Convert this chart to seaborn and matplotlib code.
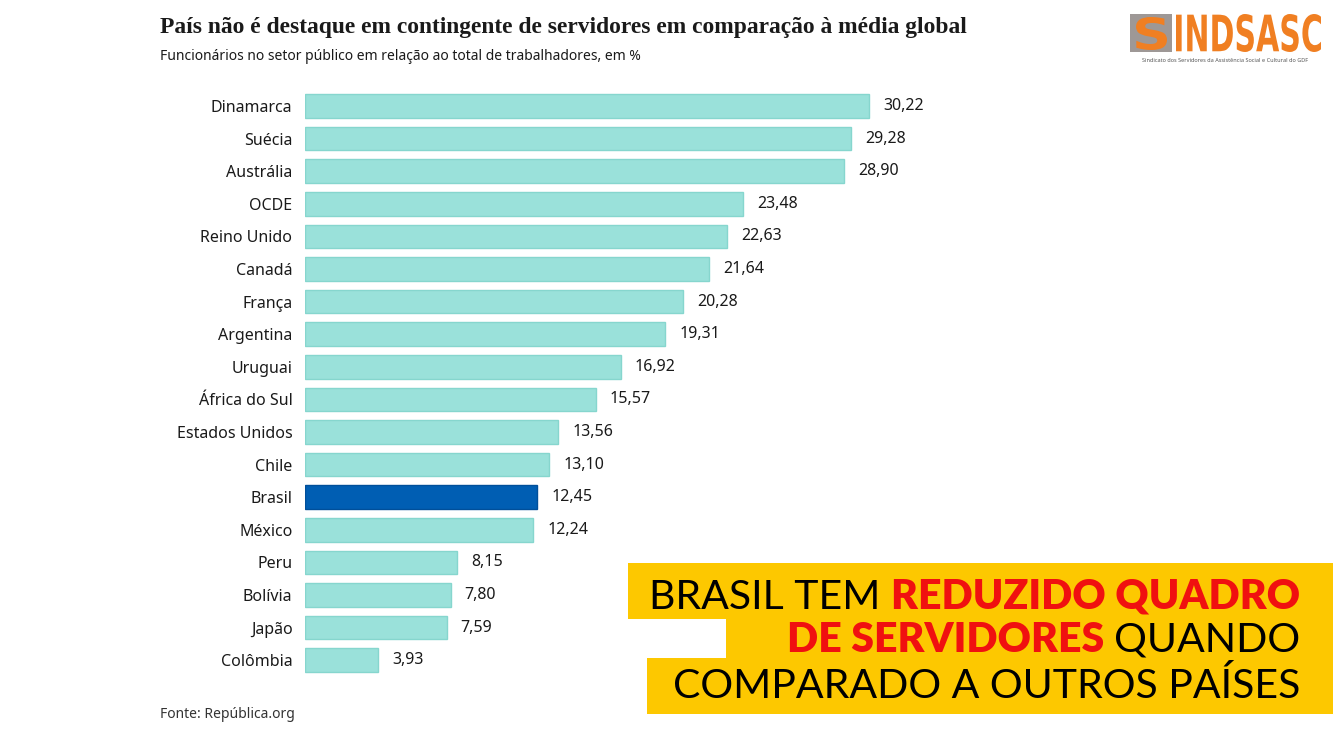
import matplotlib
matplotlib.use("Agg")
import matplotlib.pyplot as plt
import seaborn as sns
import pandas as pd
from matplotlib.patches import Rectangle, PathPatch
from matplotlib.textpath import TextPath
from matplotlib.font_manager import FontProperties
from matplotlib.transforms import Affine2D, IdentityTransform
from matplotlib.text import Annotation

countries = ["Dinamarca", "Suécia", "Austrália", "OCDE", "Reino Unido", "Canadá",
             "França", "Argentina", "Uruguai", "África do Sul", "Estados Unidos",
             "Chile", "Brasil", "México", "Peru", "Bolívia", "Japão", "Colômbia"]
values = [30.22, 29.28, 28.90, 23.48, 22.63, 21.64, 20.28, 19.31, 16.92, 15.57,
          13.56, 13.10, 12.45, 12.24, 8.15, 7.80, 7.59, 3.93]
highlight = "Brasil"

title = "País não é destaque em contingente de servidores em comparação à média global"
subtitle = "Funcionários no setor público em relação ao total de trabalhadores, em %"
source = "Fonte: República.org"

sns.set_theme(style="white")
plt.rcParams["font.family"] = ["Noto Sans", "DejaVu Sans"]

W, H = 1333, 750
fig = plt.figure(figsize=(W / 100, H / 100), dpi=100)
fig.patch.set_facecolor("white")

# axes geometry (pixels)
x0 = 305
px_per_unit = 564 / 30.22
xmax = 40
ax_w = xmax * px_per_unit
step = 32.6
top = 106 - step / 2
ax_h = step * len(countries)
ax = fig.add_axes([x0 / W, 1 - (top + ax_h) / H, ax_w / W, ax_h / H])

df = pd.DataFrame({"country": countries, "value": values})
teal = "#9ae1da"
blue = "#005eb3"
palette = {c: (blue if c == highlight else teal) for c in countries}
sns.barplot(data=df, x="value", y="country", hue="country", palette=palette,
            order=countries, width=0.73, legend=False, ax=ax,
            edgecolor=None, linewidth=0, saturation=1)
for p, c in zip(ax.patches, countries):
    p.set_edgecolor("#86d6ce" if c != highlight else "#004f9a")
    p.set_linewidth(1.0)

ax.set_xlim(0, xmax)
ax.set_ylim(len(countries) - 0.5, -0.5)
for s in ax.spines.values():
    s.set_visible(False)
ax.set_xticks([])
ax.set_xlabel("")
ax.set_ylabel("")
ax.tick_params(axis="y", length=0, pad=9, labelsize=11.5, labelcolor="#1a1a1a")
ax.set_facecolor("none")

for i, v in enumerate(values):
    ax.annotate(f"{v:.2f}".replace(".", ","), xy=(v, i), xytext=(14, 0),
                textcoords="offset pixels",
                va="center", ha="left", fontsize=11.5, color="#1a1a1a")

# title / subtitle / source
fig.text(160 / W, 1 - 27 / H, title, fontsize=16.9, fontweight="bold",
         family=["Liberation Serif", "DejaVu Serif"], color="#1a1a1a", va="center", ha="left")
fig.text(160 / W, 1 - 56 / H, subtitle, fontsize=10, color="#1a1a1a", va="center", ha="left")
fig.text(160 / W, 1 - 715 / H, source, fontsize=10, color="#333333", va="center", ha="left")

# yellow banner
yellow = "#fdc800"
for (bx0, by0, bx1, by1) in [(628, 563, 1333, 619), (726, 618, 1333, 659), (647, 658, 1333, 714)]:
    fig.patches.append(Rectangle((bx0 / W, 1 - by1 / H), (bx1 - bx0) / W, (by1 - by0) / H,
                                 transform=fig.transFigure, facecolor=yellow, edgecolor="none",
                                 zorder=1))

bfont = ["Lato", "DejaVu Sans"]
fs = 29.5
red = "#f01010"
xr = 1300 / W
t1 = fig.text(xr, 1 - 597 / H, "REDUZIDO QUADRO", fontsize=fs, fontweight="heavy",
              color=red, ha="right", va="center", family=bfont, zorder=5)
a1 = Annotation("BRASIL TEM ", xy=(0, 0), xycoords=t1, ha="right", va="bottom",
                fontsize=fs, color="black", family=bfont, annotation_clip=False, zorder=5)
fig.add_artist(a1)
t2 = fig.text(xr, 1 - 640 / H, "QUANDO", fontsize=fs, color="black",
              ha="right", va="center", family=bfont, zorder=5)
a2 = Annotation("DE SERVIDORES ", xy=(0, 0), xycoords=t2, ha="right", va="bottom",
                fontsize=fs, color=red, fontweight="heavy", family=bfont,
                annotation_clip=False, zorder=5)
fig.add_artist(a2)
fig.text(xr, 1 - 686 / H, "COMPARADO A OUTROS PAÍSES", fontsize=fs, color="black",
         ha="right", va="center", family=bfont, zorder=5)

# logo
gray = "#9e9896"
orange = "#f07f22"
fig.patches.append(Rectangle((1130 / W, 1 - 52 / H), 42 / W, 38 / H,
                             transform=fig.transFigure, facecolor=gray, edgecolor="none"))


def fitted_text(s, bx0, by0, bx1, by1, color, weight="bold"):
    tp = TextPath((0, 0), s, size=100, prop=FontProperties(family="DejaVu Sans", weight=weight))
    ext = tp.get_extents()
    sx = (bx1 - bx0) / ext.width
    sy = (by1 - by0) / ext.height
    tr = Affine2D().translate(-ext.x0, -ext.y0).scale(sx, sy).translate(bx0, H - by1)
    path = tr.transform_path(tp)
    patch = PathPatch(path, facecolor=color, edgecolor="none")
    patch.set_transform(IdentityTransform())
    fig.patches.append(patch)


fitted_text("S", 1136, 17, 1167, 50, orange)
fitted_text("INDSASC", 1176, 14, 1321, 52, orange)
fig.text(1225 / W, 1 - 60 / H, "Sindicato dos Servidores da Assistência Social e Cultural do GDF",
         fontsize=4, color="#555555", ha="center", va="center")

fig.savefig("out.png", dpi=100, facecolor="white")
